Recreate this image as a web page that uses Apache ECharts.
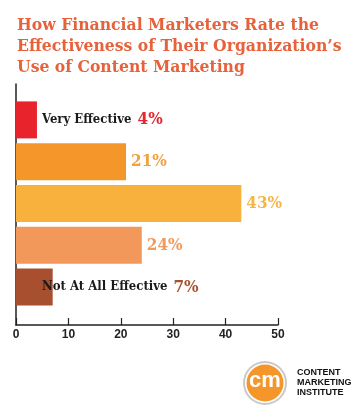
<!DOCTYPE html>
<html>
<head>
<meta charset="utf-8">
<script src="https://cdn.jsdelivr.net/npm/echarts@6/dist/echarts.min.js"></script>
<style>html,body{margin:0;padding:0;background:#fff}#c{width:360px;height:418px}</style>
</head>
<body>
<div id="c"></div>
<script>
var titleText = "How Financial Marketers Rate the\nEffectiveness of Their Organization’s\nUse of Content Marketing";
var categories = ["Very Effective", "", "", "", "Not At All Effective"];
var values = [4, 21, 43, 24, 7];
var barColors = ["#e8232b", "#f5962b", "#f9b13d", "#f1985a", "#a84f2f"];
var labelColors = ["#e3262f", "#f0a140", "#f6b547", "#f09a5e", "#a8532f"];
var xTicks = [0, 10, 20, 30, 40, 50];

var serif = "'DejaVu Serif Condensed', 'DejaVu Serif', serif";
var data = values.map(function (v, i) {
  var named = categories[i] !== "";
  var item = {
    value: v,
    itemStyle: { color: barColors[i] },
    label: {
      show: true,
      color: labelColors[i],
      fontFamily: serif,
      fontWeight: 'bold',
      fontSize: 17
    }
  };
  if (named) {
    item.label.position = [26, '50%'];
    item.label.verticalAlign = 'middle';
    item.label.formatter = '{n|' + categories[i] + '}{v|' + v + '%}';
    item.label.rich = {
      n: { color: '#1a1a1a', fontFamily: serif, fontWeight: 'bold', fontSize: 13, padding: [0, 6, 0, 0] },
      v: { color: labelColors[i], fontFamily: serif, fontWeight: 'bold', fontSize: 17 }
    };
  } else {
    item.label.position = 'right';
    item.label.distance = 5;
    item.label.formatter = v + '%';
  }
  return item;
});

var chart = echarts.init(document.getElementById('c'), null, { renderer: 'canvas' });
chart.setOption({
  animation: false,
  title: {
    text: titleText,
    left: 12, top: 10,
    textStyle: { color: '#e6623b', fontFamily: serif, fontWeight: 'bold', fontSize: 17.4, lineHeight: 21 }
  },
  grid: [
    { left: 16, width: 262, top: 99, height: 209 },
    { left: 16, width: 262, top: 84, bottom: 93 }
  ],
  xAxis: [
    { gridIndex: 0, type: 'value', min: 0, max: 50, show: false },
    {
      gridIndex: 1, type: 'value', min: 0, max: 50, interval: 10,
      axisLine: { show: true, onZero: false, lineStyle: { color: '#222', width: 1.5 } },
      axisTick: { show: true, inside: true, length: 7, lineStyle: { color: '#222', width: 1.2 } },
      axisLabel: { margin: 4, color: '#222', fontFamily: 'Liberation Sans, Arial', fontWeight: 'bold', fontSize: 12,
        formatter: function (v) { return xTicks.indexOf(v) >= 0 ? String(v) : ''; } },
      splitLine: { show: false }
    }
  ],
  yAxis: [
    { gridIndex: 0, type: 'category', data: categories, inverse: true, show: false },
    {
      gridIndex: 1, type: 'value', min: 0, max: 1,
      axisLine: { show: true, onZero: false, lineStyle: { color: '#222', width: 1.5 } },
      axisTick: { show: false }, axisLabel: { show: false }, splitLine: { show: false }
    }
  ],
  series: [{
    type: 'bar', xAxisIndex: 0, yAxisIndex: 0,
    barWidth: 37, data: data
  }],
  graphic: [
    { type: 'circle', shape: { cx: 265, cy: 383, r: 22 }, style: { fill: '#c9c9c9' } },
    { type: 'circle', shape: { cx: 265, cy: 383, r: 20 }, style: { fill: '#ffffff' } },
    { type: 'circle', shape: { cx: 265, cy: 383, r: 18.5 }, style: { fill: '#f4962a' } },
    { type: 'text', x: 265, y: 381, style: { text: 'cm', fill: '#ffffff', font: 'bold 22px "Liberation Sans", Arial', align: 'center', verticalAlign: 'middle' } },
    { type: 'text', x: 297, y: 368, style: { text: 'CONTENT\nMARKETING\nINSTITUTE', fill: '#111', font: 'bold 9px "Liberation Sans Narrow", "Liberation Sans", Arial', lineHeight: 10 } }
  ]
});
</script>
</body>
</html>
